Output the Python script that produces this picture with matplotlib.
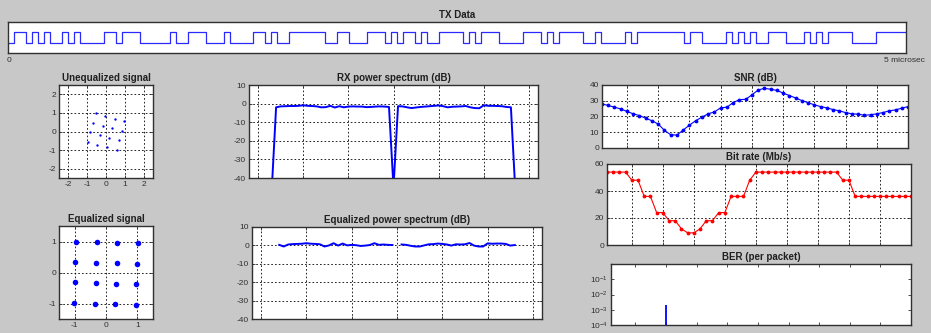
import matplotlib
matplotlib.use('Agg')
import matplotlib.pyplot as plt
import numpy as np

plt.rcParams['font.family'] = ['Liberation Sans', 'DejaVu Sans']
plt.rcParams['mathtext.default'] = 'regular'
plt.rcParams['axes.unicode_minus'] = False

# Передаваемые биты (150 бит на 5 мкс)
tx_bits = ("0110101001" "0100001101" "1100000100" "1110001000" "0110100111"
           "1110011000" "1110101101" "0011110101" "1100001110" "1011110010"
           "0001011111" "1110110000" "1010100111" "0001010111" "1000011111")
tx_bits = [int(b) for b in tx_bits]

# Созвездие до эквализации
uneq_i = [-0.55, -0.05, 0.48, 0.98, -0.69, -0.18, 0.32, 0.85,
          -0.83, -0.34, 0.18, 0.69, -0.98, -0.48, 0.04, 0.57]
uneq_q = [0.98, 0.84, 0.68, 0.54, 0.48, 0.32, 0.18, 0.04,
          -0.04, -0.20, -0.34, -0.48, -0.57, -0.71, -0.86, -0.98]

# Созвездие после эквализации
eq_i = [-0.96, -0.29, 0.36, 1.01, -0.98, -0.33, 0.34, 1.00,
        -1.00, -0.33, 0.32, 0.97, -1.01, -0.36, 0.30, 0.96]
eq_q = [1.00, 0.97, 0.95, 0.94, 0.35, 0.31, 0.30, 0.28,
        -0.31, -0.34, -0.36, -0.38, -0.97, -1.00, -1.03, -1.04]

# Спектр принятого сигнала (дБ), поднесущие -27..27
subcarriers = list(range(-27, 28))
rx_psd = [-48,
          -2.0, -1.5, -1.4, -1.3, -1.3, -1.2, -0.9, -1.2, -1.3, -1.5, -2.0, -1.9, -1.2,
          -2.1, -1.4, -2.0, -1.6, -1.5, -1.6, -1.6, -1.9, -1.8, -1.6, -1.5, -1.6, -1.8,
          -45,
          -1.4, -1.5, -2.0, -2.4, -2.1, -1.8, -1.6, -1.4, -1.2, -1.0, -1.4, -2.0, -1.7,
          -1.6, -1.5, -1.3, -2.0, -2.4, -2.5, -0.9, -1.2, -1.2, -1.3, -1.4, -1.8, -2.0,
          -48]

# Спектр после эквализации (дБ), поднесущие -26..26, без DC
eq_subcarriers = list(range(-26, 27))
eq_psd = [0.3, -0.6, 0.5, 0.7, 0.8, 0.9, 1.2, 0.9, 0.8, 0.6, -0.6, 0.0, 1.2,
          -0.1, 1.0, 0.0, 0.3, 0.1, -0.3, -0.1, 0.2, 1.2, 0.3, 0.5, 0.3, 0.2,
          np.nan,
          0.5, 0.3, -0.2, -0.6, -0.6, 0.0, 0.6, 0.7, 1.0, 0.8, 0.5, -0.1, 0.6,
          0.5, 0.6, 1.3, -0.1, -0.6, -0.6, 1.1, 0.9, 1.0, 1.0, 0.8, -0.1, 0.2]

# По пакетам
packets = list(range(1, 51))
snr_db = [28.0, 27.0, 25.9, 24.8, 23.2, 21.7, 20.6, 18.9, 17.3, 15.2,
          11.2, 8.4, 8.2, 11.4, 14.5, 17.3, 19.6, 21.7, 22.9, 25.5,
          25.9, 28.8, 30.7, 30.9, 33.7, 36.8, 37.9, 37.3, 36.6, 34.9,
          33.3, 31.8, 30.1, 28.8, 27.4, 26.3, 25.5, 24.4, 23.6, 22.5,
          21.7, 21.5, 20.8, 21.1, 21.7, 22.5, 23.6, 24.2, 25.3, 26.3]
bit_rate = [54, 54, 54, 54, 48, 48, 36, 36, 24, 24,
            18, 18, 12, 9, 9, 12, 18, 18, 24, 24,
            36, 36, 36, 48, 54, 54, 54, 54, 54, 54,
            54, 54, 54, 54, 54, 54, 54, 54, 48, 48,
            36, 36, 36, 36, 36, 36, 36, 36, 36, 36]
ber = [0] * 50
ber[9] = 2.1e-3

W, H = 931, 333
fig = plt.figure(figsize=(W / 100, H / 100), dpi=100, facecolor='#c8c8c8')


def box(l, r, t, b):
    return fig.add_axes([l / W, 1 - b / H, (r - l) / W, (b - t) / H])


def style(ax, title):
    ax.set_title(title, fontsize=7, fontweight='bold', pad=3, color='#202020')
    for s in ax.spines.values():
        s.set_color('#303030')
        s.set_linewidth(1.0)
    ax.tick_params(direction='in', length=2.5, width=0.6, top=True, right=True,
                   labelsize=6, pad=2, colors='#303030', labelcolor='#303030')


def grid(ax):
    ax.grid(True, color='black', linestyle=(0, (2, 2.5)), linewidth=0.6)


# TX Data
ax = box(8, 906, 22, 53)
style(ax, 'TX Data')
t = np.arange(len(tx_bits) + 1) * 5 / len(tx_bits)
ax.step(t, tx_bits + [tx_bits[-1]], where='post', color='#2a2aff', linewidth=0.9)
ax.set_xlim(0, 5)
ax.set_ylim(-1, 2)
ax.set_xticks([])
ax.set_yticks([])
fig.text(7 / W, 1 - 61 / H, '0', fontsize=6, ha='left', va='center', color='#303030')
fig.text(925 / W, 1 - 61 / H, '5 microsec', fontsize=6, ha='right', va='center', color='#303030')

# Unequalized signal
ax = box(59, 153, 85, 178)
style(ax, 'Unequalized signal')
ax.plot(uneq_i, uneq_q, 'o', color='blue', markersize=1.7, markeredgewidth=0)
ax.set_xlim(-2.5, 2.5)
ax.set_ylim(-2.5, 2.5)
ax.set_xticks([-2, -1, 0, 1, 2])
ax.set_yticks([-2, -1, 0, 1, 2])
grid(ax)

# Equalized signal
ax = box(59, 153, 226, 319)
style(ax, 'Equalized signal')
ax.plot(eq_i, eq_q, 'o', color='blue', markersize=4.0, markeredgewidth=0)
ax.set_xlim(-1.5, 1.5)
ax.set_ylim(-1.5, 1.5)
ax.set_xticks([-1, 0, 1])
ax.set_yticks([-1, 0, 1])
grid(ax)

# RX power spectrum
ax = box(249, 538, 85, 178)
style(ax, 'RX power spectrum (dB)')
ax.plot(subcarriers, rx_psd, color='blue', linewidth=1.4)
ax.set_xlim(-32, 32)
ax.set_ylim(-40, 10)
ax.set_xticks(range(-30, 31, 10))
ax.set_xticklabels([])
ax.set_yticks(range(-40, 11, 10))
grid(ax)

# Equalized power spectrum
ax = box(252, 542, 227, 319)
style(ax, 'Equalized power spectrum (dB)')
ax.plot(eq_subcarriers, eq_psd, color='blue', linewidth=1.4)
ax.set_xlim(-32, 32)
ax.set_ylim(-40, 10)
ax.set_xticks(range(-30, 31, 10))
ax.set_xticklabels([])
ax.set_yticks(range(-40, 11, 10))
grid(ax)

# SNR
ax = box(602, 908, 85, 148)
style(ax, 'SNR (dB)')
ax.plot(packets, snr_db, '.-', color='blue', linewidth=0.8, markersize=3.5)
ax.set_xlim(1, 50)
ax.set_ylim(0, 40)
ax.set_xticks(range(5, 50, 5))
ax.set_xticklabels([])
ax.set_yticks(range(0, 41, 10))
grid(ax)

# Bit rate
ax = box(607, 911, 164, 245)
style(ax, 'Bit rate (Mb/s)')
ax.plot(packets, bit_rate, '.-', color='red', linewidth=0.8, markersize=3.5)
ax.set_xlim(1, 50)
ax.set_ylim(0, 60)
ax.set_xticks(range(5, 50, 5))
ax.set_xticklabels([])
ax.set_yticks(range(0, 61, 20))
grid(ax)

# BER
ax = box(611, 911, 264, 325)
style(ax, 'BER (per packet)')
ax.set_yscale('log')
nz = [i for i, v in enumerate(ber) if v > 0]
ax.vlines([packets[i] for i in nz], 1e-4, [ber[i] for i in nz], color='blue', linewidth=1.3)
ax.set_xlim(1, 50)
ax.set_ylim(1e-4, 1)
ax.set_xticks(range(5, 50, 5))
ax.set_xticklabels([])
ax.set_yticks([1e-4, 1e-3, 1e-2, 1e-1])
ax.tick_params(which='minor', direction='in', length=1.5, width=0.5, right=True)

fig.savefig('out.png', dpi=100, facecolor=fig.get_facecolor())
